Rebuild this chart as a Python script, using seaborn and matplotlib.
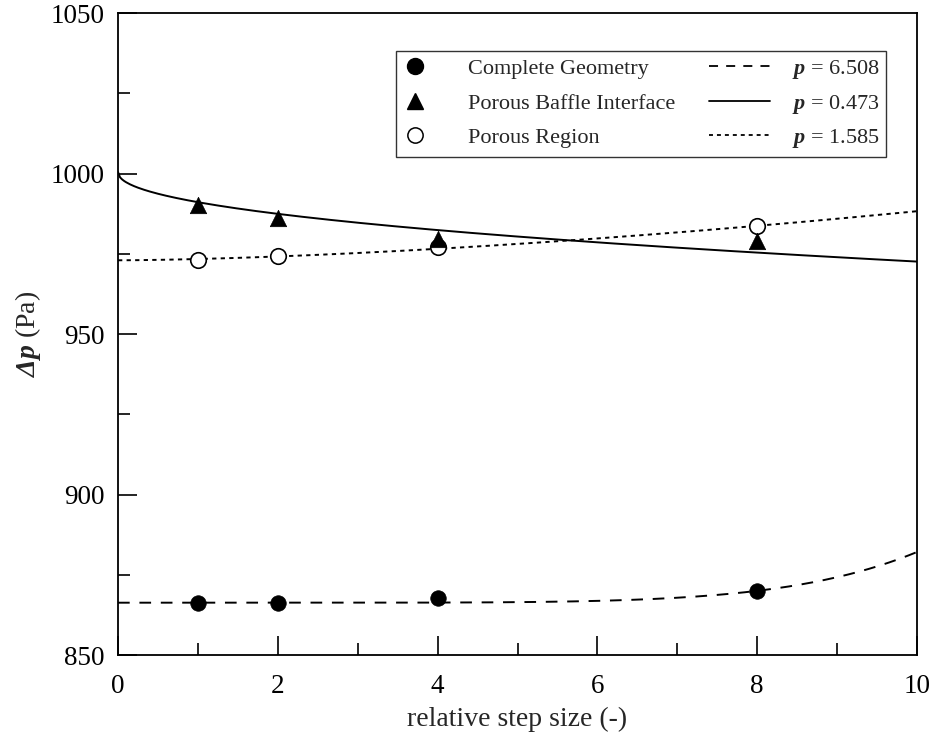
import numpy as np
import pandas as pd
import matplotlib
matplotlib.use("Agg")
import matplotlib.pyplot as plt
from matplotlib.lines import Line2D
from matplotlib.legend_handler import HandlerBase
from matplotlib.ticker import MultipleLocator
import seaborn as sns

# ---- data ----
step_sizes = [1, 2, 4, 8]
complete_geometry = [866.3, 866.3, 867.7, 869.9]
porous_baffle = [990.1, 986.3, 979.5, 978.9]
porous_region = [973.0, 974.3, 977.0, 983.6]

series_names = ["Complete Geometry", "Porous Baffle Interface", "Porous Region"]
# Richardson fit parameters: order p, extrapolated value f0 (h=0) and fit value at h=10
fit_p = [6.508, 0.473, 1.585]
fit_f0 = [866.3, 1000.5, 973.0]
fit_f10 = [882.1, 972.6, 988.3]

# ---- style ----
sns.set_style("ticks")
plt.rcParams["font.family"] = ["Liberation Serif", "DejaVu Serif"]
plt.rcParams["mathtext.fontset"] = "custom"
plt.rcParams["mathtext.rm"] = "Liberation Serif"
plt.rcParams["mathtext.it"] = "Liberation Serif:italic"
plt.rcParams["mathtext.bf"] = "Liberation Serif:bold:italic"

fig = plt.figure(figsize=(9.45, 7.33), dpi=100)
ax = fig.add_axes([0.1249, 0.1064, 0.8455, 0.8756])

# fit curves
h = np.linspace(0, 10, 400)
styles = [(0, (6, 5)), "-", (0, (2.2, 2.2))]
curve_frames = []
for name, p, f0, f10 in zip(series_names, fit_p, fit_f0, fit_f10):
    C = (f10 - f0) / 10 ** p
    curve_frames.append(pd.DataFrame({"h": h, "dp": f0 + C * h ** p, "series": name}))
curves = pd.concat(curve_frames)
for name, ls in zip(series_names, styles):
    sns.lineplot(data=curves[curves.series == name], x="h", y="dp", ax=ax,
                 color="black", linestyle=ls, linewidth=1.4, legend=False)

# points
pts = pd.DataFrame({
    "h": step_sizes * 3,
    "dp": complete_geometry + porous_baffle + porous_region,
    "series": np.repeat(series_names, len(step_sizes)),
})
sns.scatterplot(data=pts[pts.series == "Porous Region"], x="h", y="dp", ax=ax,
                marker="o", s=125, facecolor="white", edgecolor="black",
                linewidth=1.2, zorder=3, legend=False)
sns.scatterplot(data=pts[pts.series == "Complete Geometry"], x="h", y="dp", ax=ax,
                marker="o", s=125, color="black", edgecolor="black",
                linewidth=0.5, zorder=4, legend=False)
sns.scatterplot(data=pts[pts.series == "Porous Baffle Interface"], x="h", y="dp", ax=ax,
                marker="^", s=140, color="black", edgecolor="black",
                linewidth=0.5, zorder=4, legend=False)

# axes
ax.set_xlim(0, 10)
ax.set_ylim(850, 1050)
ax.xaxis.set_major_locator(MultipleLocator(2))
ax.xaxis.set_minor_locator(MultipleLocator(1))
ax.yaxis.set_major_locator(MultipleLocator(50))
ax.yaxis.set_minor_locator(MultipleLocator(25))
ax.tick_params(which="both", direction="in", top=False, right=False,
               width=1.2, colors="black")
ax.tick_params(which="major", length=14, labelsize=19.5)
ax.tick_params(which="minor", length=8.5)
ax.tick_params(axis="x", which="major", pad=14)
ax.tick_params(axis="y", which="major", pad=9.5)
for s in ax.spines.values():
    s.set_linewidth(1.3)
    s.set_color("black")
    s.set_visible(True)
ax.set_xlabel("relative step size (-)", fontsize=20, labelpad=5)
ax.set_ylabel(r"$\mathbf{\Delta p}$ (Pa)", fontsize=20, labelpad=6)


# legend handlers: markers near the left of the handle, lines extending left
class MarkerHandler(HandlerBase):
    def __init__(self, offset):
        super().__init__()
        self.offset = offset

    def create_artists(self, legend, orig_handle, xdescent, ydescent,
                       width, height, fontsize, trans):
        ln = Line2D([self.offset - xdescent], [height / 2 - ydescent])
        self.update_prop(ln, orig_handle, legend)
        ln.set_transform(trans)
        return [ln]


class LineHandler(HandlerBase):
    def __init__(self, extend):
        super().__init__()
        self.extend = extend

    def create_artists(self, legend, orig_handle, xdescent, ydescent,
                       width, height, fontsize, trans):
        y = height / 2 - ydescent
        ln = Line2D([-xdescent - self.extend, width - xdescent], [y, y])
        self.update_prop(ln, orig_handle, legend)
        ln.set_transform(trans)
        return [ln]


marker_handles = [
    Line2D([], [], marker="o", color="black", linestyle="none", markersize=11.5),
    Line2D([], [], marker="^", color="black", linestyle="none", markersize=11),
    Line2D([], [], marker="o", markerfacecolor="white", markeredgecolor="black",
           linestyle="none", markersize=11, markeredgewidth=1.1),
]
legend_styles = [(0, (5, 4.5)), "-", (0, (2.2, 2.2))]
line_handles = [Line2D([], [], color="black", linestyle=ls, linewidth=1.3)
                for ls in legend_styles]
hmap = {hd: MarkerHandler(9.0) for hd in marker_handles}
hmap.update({hd: LineHandler(11.9) for hd in line_handles})
labels = series_names + [r"$\mathbf{p}$ = %.3f" % p for p in fit_p]
leg = ax.legend(marker_handles + line_handles, labels, ncol=2, loc="upper left",
                bbox_to_anchor=(0.348, 0.9405), fontsize=16, frameon=True,
                fancybox=False, edgecolor="black", handlelength=2.0,
                handletextpad=0.95, columnspacing=2.27, borderpad=0.3,
                labelspacing=0.63, borderaxespad=0.0, handler_map=hmap)
leg.get_frame().set_linewidth(1.0)

# align rows of the two legend columns
fig.canvas.draw()
texts = leg.get_texts()
rend = fig.canvas.get_renderer()
yc = [t.get_window_extent(rend) for t in texts]
ycen = [(b.y0 + b.y1) / 2 for b in yc]
d1 = ycen[0] - ycen[1]
d2 = ycen[3] - ycen[4]
cols = leg._legend_handle_box.get_children()
if len(cols) == 2:
    cols[1].sep = cols[1].sep - (d2 - d1) * 72.0 / fig.dpi

fig.savefig("out.png", dpi=100)
